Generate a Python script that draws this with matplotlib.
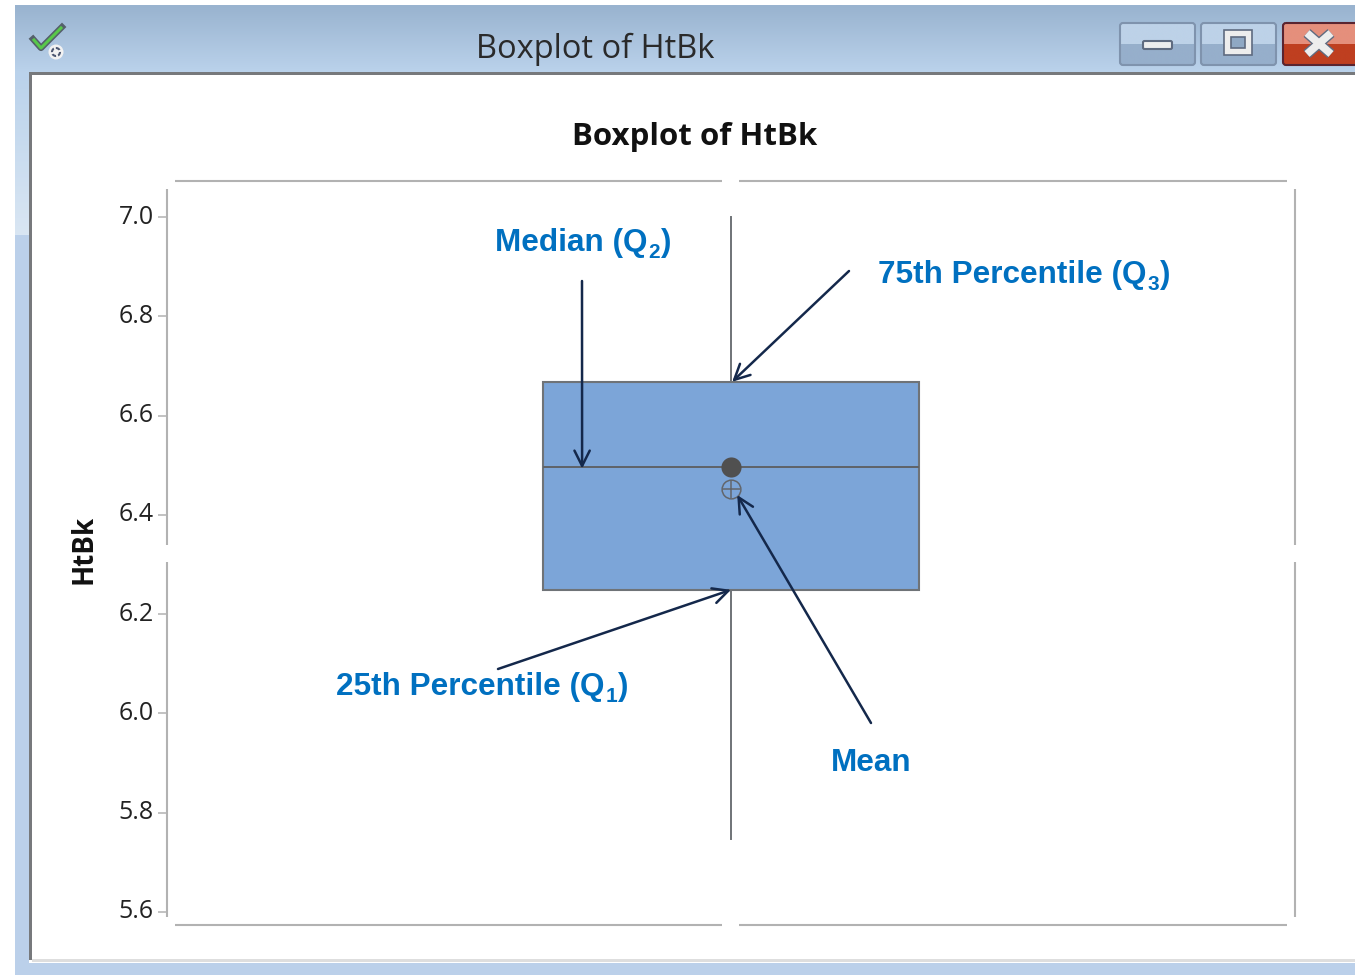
import numpy as np
import matplotlib
matplotlib.use("Agg")
import matplotlib.pyplot as plt
from matplotlib.patches import Rectangle, FancyBboxPatch, Circle

# values
whisker_low = 5.747
q1 = 6.249
median = 6.497
mean = 6.452
q3 = 6.668
whisker_high = 7.0
y_ticks = [5.6, 5.8, 6.0, 6.2, 6.4, 6.6, 6.8, 7.0]
window_title = "Boxplot of HtBk"
chart_title = "Boxplot of HtBk"
y_label = "HtBk"

W, H = 1355, 975
BLUE = "#0070C0"
NAVY = "#14284B"
GREY = "#B2B2B2"
LINE = "#5F6368"

fig = plt.figure(figsize=(W / 100, H / 100), dpi=100, facecolor="white")

# background axes in pixels, used for the window frame
bg = fig.add_axes([0, 0, 1, 1], zorder=0)
bg.set_xlim(0, W)
bg.set_ylim(H, 0)
bg.axis("off")


def vgrad(x0, x1, y0, y1, c0, c1, z=1):
    c0 = np.array(matplotlib.colors.to_rgb(c0))
    c1 = np.array(matplotlib.colors.to_rgb(c1))
    t = np.linspace(0, 1, 64)[:, None, None]
    img = c0 * (1 - t) + c1 * t
    bg.imshow(img, extent=(x0, x1, y1, y0), aspect="auto", zorder=z, interpolation="bilinear")


# window frame
vgrad(15, W, 5, 72, "#99B3CF", "#BAD2EB")
vgrad(15, 29, 72, 235, "#BAD2EB", "#D9E6F3")
bg.add_patch(Rectangle((15, 235), 14, 740, fc="#BBD0EA", ec="none", zorder=1))
bg.add_patch(Rectangle((15, 963), W - 15, 12, fc="#BBD0EA", ec="none", zorder=1))
bg.add_patch(Rectangle((29, 72), W - 29, 3, fc="#77797C", ec="none", zorder=2))
bg.add_patch(Rectangle((29, 72), 3, 888, fc="#77797C", ec="none", zorder=2))
bg.add_patch(Rectangle((32, 959), W - 32, 3, fc="#DEDEDE", ec="none", zorder=2))
bg.text(595, 49, window_title, fontsize=23.5, family="Open Sans", color="#2A2A2A",
        ha="center", va="center", zorder=3)


def button(x0, x1, c_top, c_bot, edge):
    vgrad(x0, x1, 23, 44, c_top, c_top, z=2)
    vgrad(x0, x1, 44, 65, c_bot, c_bot, z=2)
    bg.add_patch(FancyBboxPatch((x0, 23), x1 - x0, 42, boxstyle="round,pad=0,rounding_size=3",
                                fc="none", ec=edge, lw=1.5, zorder=3))


button(1120, 1195, "#BDD2E8", "#96AFCB", "#7F93AD")
button(1201, 1276, "#BDD2E8", "#96AFCB", "#7F93AD")
button(1283, W + 6, "#E58F7C", "#BF3F20", "#5A2430")
bg.add_patch(FancyBboxPatch((1143, 41), 29, 8, boxstyle="round,pad=0,rounding_size=1.5",
                            fc="#EDEDED", ec="#5F6B80", lw=1.5, zorder=4))
bg.add_patch(Rectangle((1224, 30), 28, 25, fc="#EDEDED", ec="#5F6B80", lw=1.2, zorder=4))
bg.add_patch(Rectangle((1231, 37), 14, 11, fc="#8FA8C4", ec="#5F6B80", lw=1.2, zorder=5))
bg.plot([1307, 1331], [33, 54], color="#5F6B80", lw=7.5, zorder=4, solid_capstyle="butt")
bg.plot([1331, 1307], [33, 54], color="#5F6B80", lw=7.5, zorder=4, solid_capstyle="butt")
bg.plot([1307, 1331], [33, 54], color="#EDEDED", lw=5.5, zorder=5, solid_capstyle="butt")
bg.plot([1331, 1307], [33, 54], color="#EDEDED", lw=5.5, zorder=5, solid_capstyle="butt")

# title bar icon
bg.plot([33, 41, 62], [39, 48, 27], color="#55606B", lw=4.5, zorder=4)
bg.plot([34, 41, 61], [40, 48, 28], color="#58C84A", lw=2.2, zorder=5)
bg.add_patch(Circle((56, 52), 7.5, fc="#F2F2F2", ec="none", zorder=4))
bg.add_patch(Circle((56, 52), 4, fc="none", ec="#4D5872", lw=1.5, ls=(0, (2, 1)), zorder=5))

bg.set_xlim(0, W)
bg.set_ylim(H, 0)

# plot region: y pixels fixed from the 7.0 and 5.6 ticks
left, right, top, bottom = 167, 1295, 181, 925
ax = fig.add_axes([left / W, 1 - bottom / H, (right - left) / W, (bottom - top) / H], zorder=1)
ax.patch.set_alpha(0)
per_unit = (912 - 217) / 1.4
ax.set_ylim(5.6 - (bottom - 912) / per_unit, 7.0 + (217 - top) / per_unit)
ax.set_xlim(-1, 1)

stats = [dict(whislo=whisker_low, q1=q1, med=median, q3=q3, whishi=whisker_high, fliers=[])]
ax.bxp(stats, positions=[0], widths=[2 / 3], patch_artist=True, showcaps=False,
       showfliers=False, manage_ticks=False,
       boxprops=dict(facecolor="#7CA5D8", edgecolor="#6F7377", linewidth=1.5),
       medianprops=dict(color=LINE, linewidth=1.4),
       whiskerprops=dict(color="#6F7377", linewidth=1.4))
ax.plot([0], [median], "o", color="#505050", ms=14.5, mec="none", zorder=5)
ax.plot([0], [mean], "o", mfc="none", mec="#62666C", ms=13.5, mew=1.1, zorder=5)
ax.plot([0], [mean], "+", color="#62666C", ms=13.5, mew=1.1, zorder=5)

# split frame lines, as the spines have gaps
for s in ax.spines.values():
    s.set_visible(False)
ax.set_xticks([])
ax.set_yticks(y_ticks)
ax.set_yticklabels(["%.1f" % t for t in y_ticks], fontsize=18, family="Open Sans", color="#222222")
ax.tick_params(axis="y", length=6.5, width=1.1, color=GREY, pad=3)
for lab in ax.get_yticklabels():
    lab.set_verticalalignment("center")

for x0, x1 in [(175, 722), (739, 1287)]:
    bg.plot([x0, x1], [top, top], color=GREY, lw=1.5, zorder=2, solid_capstyle="butt")
    bg.plot([x0, x1], [bottom, bottom], color=GREY, lw=1.5, zorder=2, solid_capstyle="butt")
for x in [left, right]:
    for y0, y1 in [(189, 545), (562, 917)]:
        bg.plot([x, x], [y0, y1], color=GREY, lw=1.5, zorder=2, solid_capstyle="butt")

bg.text(695, 137, chart_title, fontsize=22.5, fontweight="bold", family="Open Sans",
        color="#111111", ha="center", va="center", zorder=3)
bg.text(84, 549, y_label, fontsize=20, fontweight="bold", family="Open Sans", color="#111111",
        rotation=90, ha="center", va="center", zorder=3)

# callouts: tips sit on the box values, tails are placed on the page
arrow = dict(arrowstyle="->,head_length=1.1,head_width=0.55", color=NAVY, lw=1.8,
             shrinkA=0, shrinkB=0)
callouts = [
    ((-0.264, median - 0.004), (582, 281)),
    ((0.002, q3), (849, 271)),
    ((0.0, q1), (498, 669)),
    ((0.011, mean - 0.012), (871, 723)),
]
for tip, tail in callouts:
    ax.annotate("", xy=tip, xycoords="data", xytext=tail, textcoords=bg.transData,
                arrowprops=arrow, zorder=6, annotation_clip=False)

# main text, lowered subscript, closing bracket
labels = [
    (495, 251, "Median (Q", "2", ")"),
    (878, 283, "75th Percentile (Q", "3", ")"),
    (336, 695, "25th Percentile (Q", "1", ")"),
    (831, 771, "Mean", "", ""),
]
renderer = fig.canvas.get_renderer()
for x, y, main, sub, end in labels:
    px = x
    for s, size, drop in [(main, 22.7, 0), (sub, 15, 7), (end, 22.7, 0)]:
        if not s:
            continue
        t = fig.text(px / W, 1 - (y + drop) / H, s, fontsize=size, fontweight="bold",
                     family="Liberation Sans", color=BLUE, ha="left", va="baseline", zorder=7)
        px = t.get_window_extent(renderer).x1 + 1

fig.savefig("out.png", dpi=100)
